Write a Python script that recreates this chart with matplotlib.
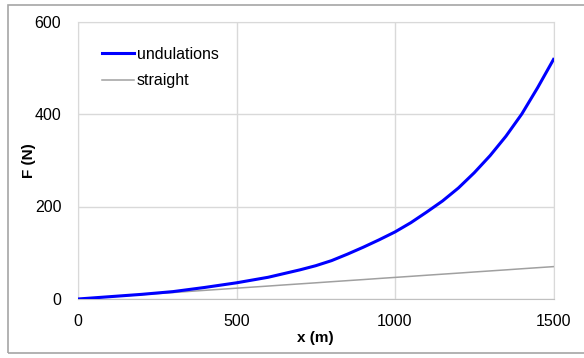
import matplotlib
matplotlib.use('Agg')
import matplotlib.pyplot as plt
from matplotlib.patches import Rectangle

plt.rcParams['font.family'] = ['Liberation Sans', 'DejaVu Sans']

# distance along the path (m)
x_m = [0, 100, 200, 300, 400, 450, 500, 550, 600, 650, 700, 750, 800, 850, 900, 950,
       1000, 1050, 1100, 1150, 1200, 1250, 1300, 1350, 1400, 1450, 1500]
# force (N)
undulations = [0, 5, 10, 16, 25, 30, 35, 41, 47, 55, 63, 72, 83, 97, 112, 128,
               145, 165, 188, 212, 240, 273, 310, 352, 400, 457, 518]
straight = [0, 4.7, 9.4, 14, 18.7, 21, 23.4, 25.7, 28, 30.4, 32.7, 35, 37.4, 39.7, 42, 44.4,
            46.7, 49, 51.4, 53.7, 56, 58.4, 60.7, 63, 65.4, 67.7, 70]

x_ticks = [0, 500, 1000, 1500]
y_ticks = [0, 200, 400, 600]

fig = plt.figure(figsize=(5.84, 3.58), dpi=100)
ax = fig.add_axes([78 / 584, 59 / 358, 475.5 / 584, 277.5 / 358])

# outer chart border (right side runs off the image)
fig.patches.append(Rectangle((8 / 584, 5 / 358), 1.2, 348 / 358, transform=fig.transFigure,
                             fill=False, edgecolor='#a6a6a6', linewidth=1.2))

ax.plot(x_m, undulations, color='#0000ff', linewidth=2.2, label='undulations', zorder=3)
ax.plot(x_m, straight, color='#a0a0a0', linewidth=1.1, label='straight', zorder=2)

ax.set_xlim(0, 1500)
ax.set_ylim(0, 600)
ax.set_xticks(x_ticks)
ax.set_yticks(y_ticks)
ax.tick_params(length=0, labelsize=11.5, colors='black')
ax.tick_params(axis='x', pad=11)
ax.tick_params(axis='y', pad=12)
ax.grid(True, color='#d9d9d9', linewidth=1)
ax.set_axisbelow(True)
for side in ['top', 'right', 'left']:
    ax.spines[side].set_color('#d9d9d9')
ax.spines['bottom'].set_color('#c0c0c0')

ax.set_xlabel('x (m)', fontsize=11, fontweight='bold')
ax.set_ylabel('F (N)', fontsize=11, fontweight='bold')
ax.xaxis.set_label_coords(0.5, -0.115)
ax.yaxis.set_label_coords(-0.088, 0.5)

ax.legend(loc='upper left', frameon=False, fontsize=11.5, handlelength=2.0,
          handletextpad=0.2, bbox_to_anchor=(0.02, 0.96), labelspacing=0.7)

fig.savefig('out.png', dpi=100)
